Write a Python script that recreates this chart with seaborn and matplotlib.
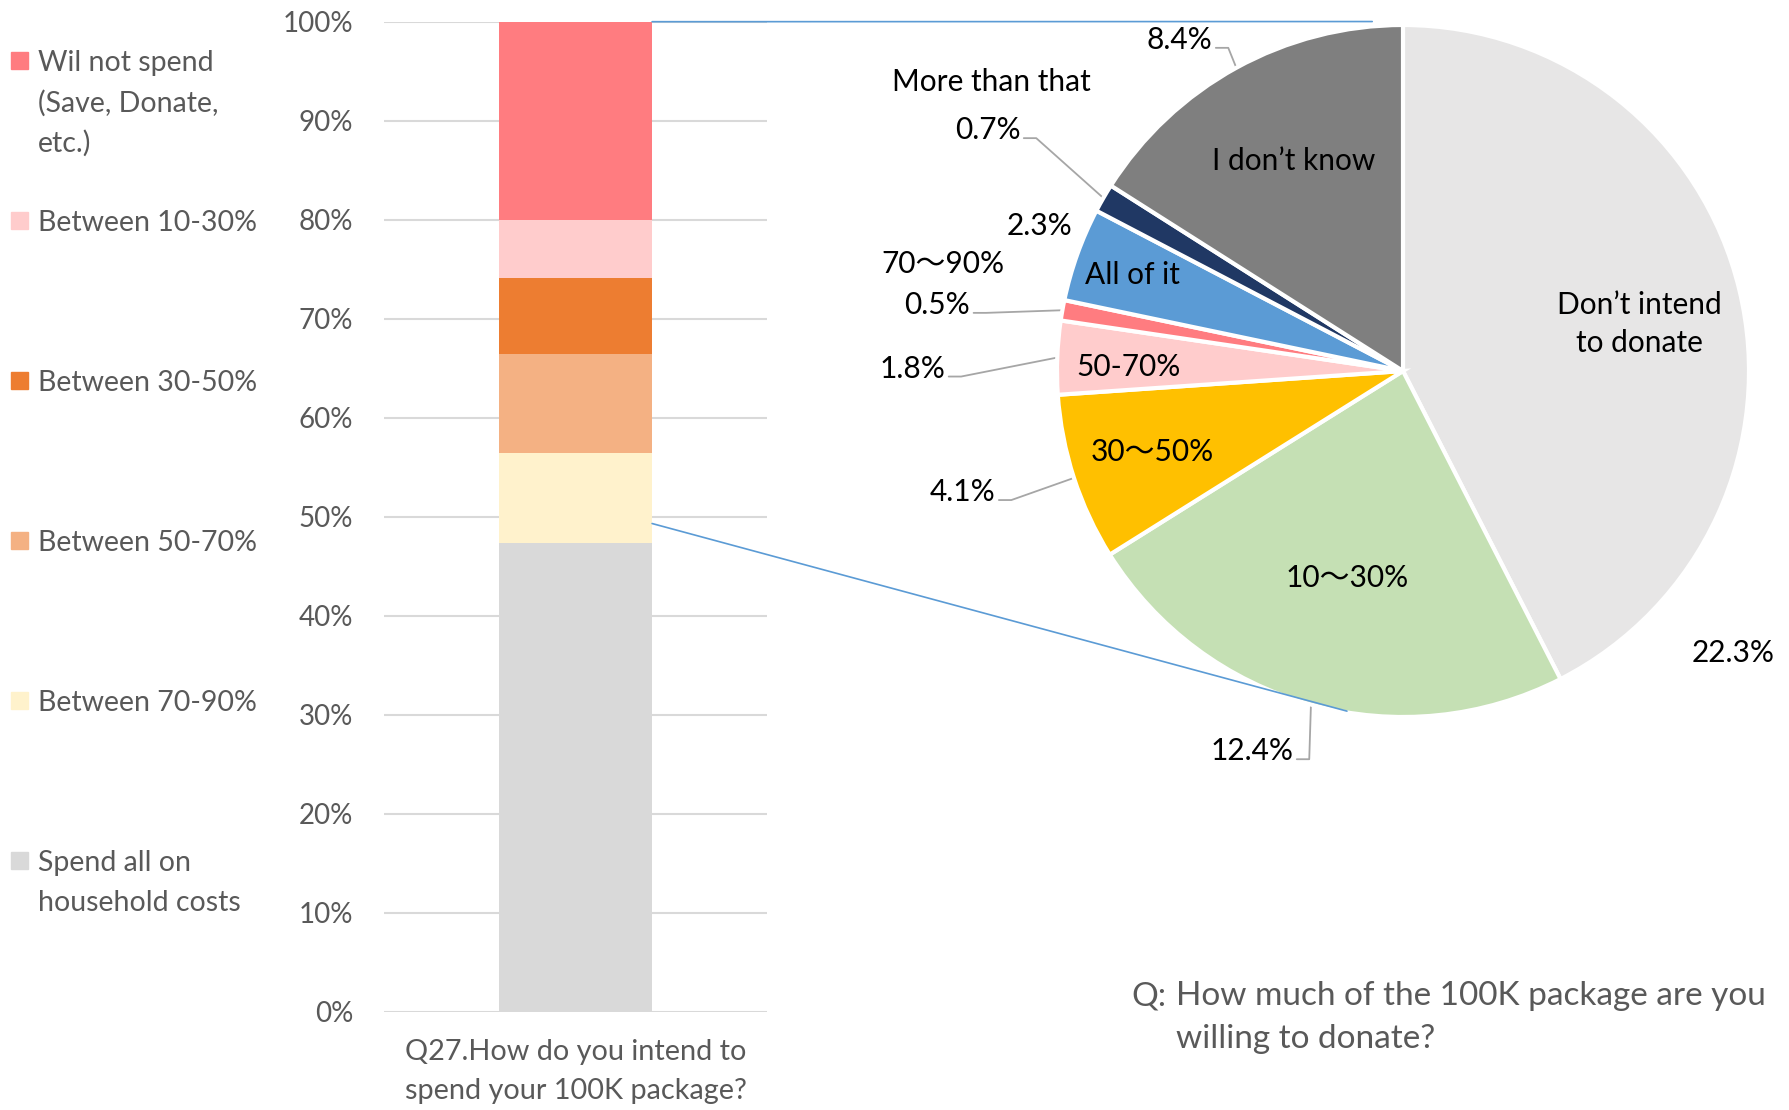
import numpy as np
import pandas as pd
import matplotlib.pyplot as plt
import seaborn as sns
from matplotlib.patches import ConnectionPatch, Rectangle

# Q27 stacked bar, bottom to top
spend_labels = ["Spend all on\nhousehold costs", "Between 70-90%", "Between 50-70%",
                "Between 30-50%", "Between 10-30%", "Wil not spend\n(Save, Donate,\netc.)"]
spend_values = [47.3, 9.1, 10.0, 7.7, 5.9, 20.0]
spend_colors = ["#d9d9d9", "#fff2cc", "#f4b183", "#ed7d31", "#ffcccc", "#ff7c80"]
bar_question = "Q27.How do you intend to\nspend your 100K package?"

# donation pie, clockwise from 12 o'clock
donate_labels = ["Don’t intend\nto donate", "10～30%", "30～50%", "50-70%", "70～90%",
                 "All of it", "More than that", "I don’t know"]
donate_values = [22.3, 12.4, 4.1, 1.8, 0.5, 2.3, 0.7, 8.4]
donate_colors = ["#e7e6e6", "#c5e0b4", "#ffc000", "#ffcccc", "#ff7c80",
                 "#5b9bd5", "#203864", "#7f7f7f"]
pie_question = "How much of the 100K package are you\nwilling to donate?"

W, H = 1790, 1110
sns.set_theme(style="white")
plt.rcParams['font.family'] = ['Lato', 'Noto Sans CJK JP', 'DejaVu Sans']
GREY_TXT = "#595959"


def fx(px):
    return px / W


def fy(py):
    return 1 - py / H


fig = plt.figure(figsize=(17.9, 11.1), dpi=100)

# ---- stacked bar (cumulative bars drawn largest first) ----
ax = fig.add_axes([fx(384), fy(1011.5), fx(767) - fx(384), fy(21.7) - fy(1011.5)])
cum = np.cumsum(spend_values)
for i in range(len(spend_values) - 1, -1, -1):
    df = pd.DataFrame({"q": [bar_question], "pct": [cum[i]]})
    sns.barplot(data=df, x="q", y="pct", color=spend_colors[i], width=0.4,
                saturation=1, linewidth=0, ax=ax)
ax.set_ylim(0, 100)
ax.set_xlim(-0.5, 0.5)
ax.set_yticks(range(0, 101, 10))
ax.set_yticklabels([f"{t}%" for t in range(0, 101, 10)])
ax.yaxis.grid(True, color="#d9d9d9", lw=1.5)
ax.set_axisbelow(True)
ax.tick_params(axis="y", length=0, pad=22, labelsize=20, labelcolor=GREY_TXT)
ax.tick_params(axis="x", length=0, pad=20, labelsize=20.8, labelcolor=GREY_TXT)
for lab in ax.get_xticklabels():
    lab.set_linespacing(1.62)
ax.set_xlabel("")
ax.set_ylabel("")
sns.despine(ax=ax, left=True, bottom=True)

# legend, top of stack first
for i, (lab, col) in enumerate(zip(spend_labels[::-1], spend_colors[::-1])):
    yc = 60.5 + i * 160
    fig.patches.append(Rectangle((fx(11), fy(yc + 8.5)), fx(17), 17 / H,
                                 transform=fig.transFigure, color=col))
    for j, line in enumerate(lab.split("\n")):
        fig.text(fx(37.7), fy(yc + j * 40), line, fontsize=20.5, color=GREY_TXT,
                 va="center_baseline", ha="left")

# ---- pie ----
cx, cy, r = 1403, 371, 346
k = 1.1
pax = fig.add_axes([fx(cx - k * r), fy(cy + k * r), 2 * k * r / W, 2 * k * r / H])
wedges, _ = pax.pie(donate_values, colors=donate_colors, startangle=90, counterclock=False,
                    wedgeprops=dict(edgecolor="white", linewidth=3))
pax.set_xlim(-k, k)
pax.set_ylim(-k, k)

# category labels (layout positions in pie units)
name_pos = {0: (0.683, 0.135), 1: (-0.162, -0.597), 2: (-0.726, -0.234), 3: (-0.792, 0.013),
            4: (-1.330, 0.310), 5: (-0.782, 0.277), 6: (-1.191, 0.835), 7: (-0.317, 0.607)}
for i, (x, y) in name_pos.items():
    pax.text(x, y, donate_labels[i], ha="center", va="center", fontsize=21.5,
             color="black", linespacing=1.45)

# percentage labels without leaders
plain_pos = {0: (0.954, -0.815), 5: (-1.050, 0.419)}
for i, (x, y) in plain_pos.items():
    pax.text(x, y, f"{donate_values[i]:.1f}%", ha="center", va="center", fontsize=21.5,
             color="black")

# percentage labels with leader lines (right end of text)
lead_pos = {7: (-0.551, 0.957), 6: (-1.106, 0.696), 4: (-1.251, 0.191),
            3: (-1.323, 0.007), 2: (-1.178, -0.350), 1: (-0.317, -1.099)}
for i, (x, y) in lead_pos.items():
    pax.text(x, y, f"{donate_values[i]:.1f}%", ha="right", va="center", fontsize=21.5,
             color="black")
    w = wedges[i]
    mid = np.deg2rad((w.theta1 + w.theta2) / 2)
    ex, ey = np.cos(mid), np.sin(mid)
    x0, y0 = x + 0.01, y - 0.023
    pax.plot([x0, x0 + 0.036, ex], [y0, y0, ey], color="#a6a6a6", lw=1.3,
             clip_on=False, zorder=0.5)

# connector lines bar -> pie
for ya, xyb in [(100, (-0.089, 1.010)), (49.3, (-0.162, -0.983))]:
    con = ConnectionPatch(xyA=(0.2, ya), coordsA=ax.transData, xyB=xyb, coordsB=pax.transData,
                          color="#5b9bd5", lw=1.2)
    fig.add_artist(con)

# pie question
fig.text(fx(1131), fy(993), "Q:", fontsize=24, color=GREY_TXT, va="center_baseline", ha="left")
for j, line in enumerate(pie_question.split("\n")):
    fig.text(fx(1176), fy(993 + j * 43.5), line, fontsize=24, color=GREY_TXT,
             va="center_baseline", ha="left")

fig.savefig("out.png", dpi=100)
